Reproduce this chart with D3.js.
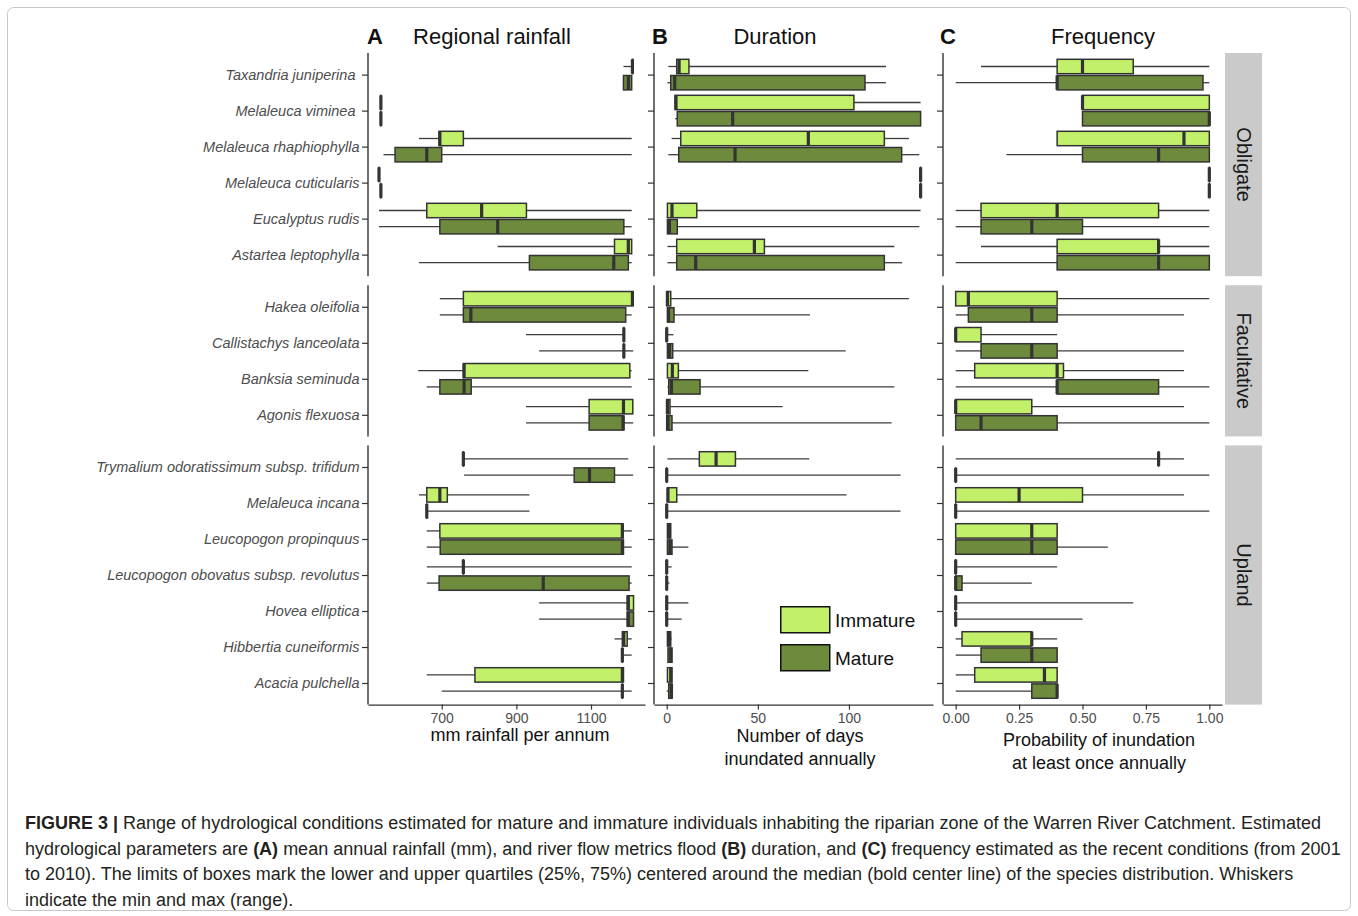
<!DOCTYPE html>
<html>
<head>
<meta charset="utf-8">
<script src="https://cdn.jsdelivr.net/npm/d3@7"></script>
<style>
  body { margin: 0; background: #fff; }
  text { font-family: "Liberation Sans", Arial, Helvetica, sans-serif; }
</style>
</head>
<body>
<svg id="chart"></svg>
<script>
// ---- data ----
const groups = ["Obligate", "Facultative", "Upland"];
const speciesObligate = ["Taxandria juniperina ", "Melaleuca viminea ", "Melaleuca rhaphiophylla",
  "Melaleuca cuticularis", "Eucalyptus rudis", "Astartea leptophylla"];
const speciesFacultative = ["Hakea oleifolia", "Callistachys lanceolata", "Banksia seminuda", "Agonis flexuosa"];
const speciesUpland = ["Trymalium odoratissimum subsp. trifidum", "Melaleuca incana", "Leucopogon propinquus",
  "Leucopogon obovatus subsp. revolutus", "Hovea elliptica", "Hibbertia cuneiformis", "Acacia pulchella"];
const stages = ["Immature", "Mature"];

// [min, q1, median, q3, max], species in the order above
const rainfallImmature = [
  [1187, 1211, 1211, 1212, 1212], [537, 537, 537, 537, 537], [639, 693, 695, 758, 1209],
  [532, 532, 532, 532, 532], [532, 660, 807, 927, 1209], [850, 1163, 1200, 1209, 1209],
  [695, 758, 1211, 1213, 1213], [926, 1188, 1188, 1188, 1188], [637, 758, 760, 1204, 1209],
  [926, 1095, 1187, 1212, 1212],
  [758, 758, 758, 758, 1200], [639, 660, 695, 715, 935], [660, 695, 1184, 1186, 1209],
  [660, 758, 758, 758, 1209], [961, 1197, 1200, 1214, 1214], [1163, 1184, 1188, 1197, 1209],
  [660, 789, 1184, 1187, 1187]
];
const rainfallMature = [
  [1187, 1187, 1200, 1209, 1209], [537, 537, 537, 537, 537], [544, 575, 660, 700, 1209],
  [537, 537, 537, 537, 537], [532, 695, 850, 1188, 1209], [639, 935, 1161, 1200, 1209],
  [695, 758, 778, 1193, 1209], [961, 1188, 1188, 1188, 1213], [660, 695, 760, 779, 1209],
  [926, 1095, 1186, 1188, 1213],
  [760, 1055, 1096, 1163, 1213], [660, 660, 660, 660, 935], [660, 696, 1184, 1187, 1209],
  [660, 693, 972, 1202, 1209], [961, 1197, 1200, 1214, 1214], [1184, 1184, 1184, 1184, 1209],
  [700, 1184, 1184, 1184, 1209]
];
const durationImmature = [
  [0.9, 5.5, 6.8, 12.2, 120.3], [4, 4.6, 5.1, 102.7, 139.3], [2.7, 7.7, 77.7, 119.4, 132.9],
  [139.3, 139.3, 139.3, 139.3, 139.3], [0.4, 0.4, 2.9, 16.5, 139.3], [0.4, 5.5, 48.1, 53.6, 124.9],
  [0, 0, 0.4, 2.2, 132.9], [0, 0, 0, 0, 3.7], [0.4, 0.4, 3.1, 6.4, 77.7], [0, 0, 0.4, 1.8, 63.6],
  [0.4, 17.9, 27.1, 37.7, 78.2], [0, 0.4, 0.7, 5.5, 98.7], [0.4, 0.4, 1.5, 2.2, 2.2],
  [0, 0, 0, 0, 2.7], [0, 0, 0, 0, 11.9], [0.4, 0.4, 1.5, 2.2, 2.7], [0.4, 0.4, 2.2, 2.9, 2.9]
];
const durationMature = [
  [0.4, 2.2, 4.4, 108.8, 120.3], [4.6, 5.8, 36.2, 139.3, 139.3], [0.9, 6.6, 37.5, 128.9, 138.6],
  [139.3, 139.3, 139.3, 139.3, 139.3], [0.4, 0.4, 1.5, 5.8, 138.6], [0.4, 5.5, 15.9, 119.4, 129.2],
  [0.4, 0.4, 1.0, 4.0, 78.6], [0.4, 0.4, 1.5, 3.3, 98.2], [0.4, 1.1, 2.6, 18.3, 124.9], [0, 0, 0.7, 2.9, 123.4],
  [0, 0, 0, 0, 128.3], [0, 0, 0, 0, 128.3], [0.4, 0.4, 1.8, 2.9, 11.9],
  [0, 0, 0, 0, 1.5], [0, 0, 0, 0, 8.2], [0.7, 0.7, 2.2, 2.9, 2.9], [0, 1.1, 2.6, 2.9, 2.9]
];
const frequencyImmature = [
  [0.1, 0.4, 0.5, 0.7, 1], [0.5, 0.5, 0.5, 1, 1], [0.4, 0.4, 0.9, 1, 1], [1, 1, 1, 1, 1],
  [0, 0.1, 0.4, 0.8, 1], [0.1, 0.4, 0.8, 0.8, 1],
  [0, 0, 0.05, 0.4, 1], [0, 0, 0, 0.1, 0.4], [0, 0.075, 0.4, 0.425, 0.9], [0, 0, 0, 0.3, 0.9],
  [0, 0.8, 0.8, 0.8, 0.9], [0, 0, 0.25, 0.5, 0.9], [0, 0, 0.3, 0.4, 0.4], [0, 0, 0, 0, 0.4],
  [0, 0, 0, 0, 0.7], [0, 0.025, 0.3, 0.3, 0.4], [0, 0.075, 0.35, 0.4, 0.4]
];
const frequencyMature = [
  [0, 0.4, 0.4, 0.975, 1], [0.5, 0.5, 1, 1, 1], [0.2, 0.5, 0.8, 1, 1], [1, 1, 1, 1, 1],
  [0, 0.1, 0.3, 0.5, 1], [0, 0.4, 0.8, 1, 1],
  [0, 0.05, 0.3, 0.4, 0.9], [0, 0.1, 0.3, 0.4, 0.9], [0, 0.4, 0.4, 0.8, 1], [0, 0, 0.1, 0.4, 1],
  [0, 0, 0, 0, 1], [0, 0, 0, 0, 1], [0, 0, 0.3, 0.4, 0.6], [0, 0, 0, 0.025, 0.3],
  [0, 0, 0, 0, 0.5], [0, 0.1, 0.3, 0.4, 0.4], [0, 0.3, 0.4, 0.4, 0.4]
];

const rainfallTicks = [700, 900, 1100];
const durationTicks = [0, 50, 100];
const frequencyTicks = [0, 0.25, 0.5, 0.75, 1];

// ---- layout ----
const W = 1358, H = 916;
const unit = 36, rowGap = 9, top0 = 53;
const fills = { Immature: "#c2f06b", Mature: "#6e8b3d" };
const ink = "#333333";

const svg = d3.select("#chart").attr("width", W).attr("height", H);

svg.append("rect")
  .attr("x", 7.5).attr("y", 7.5).attr("width", W - 15).attr("height", H - 13)
  .attr("rx", 6).attr("fill", "none").attr("stroke", "#c8c8c8");

const speciesByGroup = [speciesObligate, speciesFacultative, speciesUpland];
let rows = [], yy = top0, startIdx = 0;
speciesByGroup.forEach((names, i) => {
  const h = (names.length + 0.2) * unit;
  rows.push({ group: groups[i], names: names, start: startIdx, y0: yy, y1: yy + h });
  startIdx += names.length;
  yy += h + rowGap;
});
const bottom = rows[rows.length - 1].y1;

const panels = [
  { imm: rainfallImmature, mat: rainfallMature, x0: 368, x1: 645, domain: [502.5, 1244.7],
    ticks: rainfallTicks, fmt: d3.format("d"), letter: "A", letterX: 367,
    title: "Regional rainfall", titleX: 492, axisTitle: ["mm rainfall per annum"], axisTitleY: 741 },
  { imm: durationImmature, mat: durationMature, x0: 654, x1: 933, domain: [-6.97, 146.1],
    ticks: durationTicks, fmt: d3.format("d"), letter: "B", letterX: 652,
    title: "Duration", titleX: 775, axisTitle: ["Number of days", "inundated annually"], axisTitleY: 742 },
  { imm: frequencyImmature, mat: frequencyMature, x0: 943, x1: 1222, domain: [-0.05, 1.05],
    ticks: frequencyTicks, fmt: d3.format(".2f"), letter: "C", letterX: 940,
    title: "Frequency", titleX: 1103, axisTitle: ["Probability of inundation", "at least once annually"], axisTitleY: 746 }
];

panels.forEach((p, pi) => {
  const x = d3.scaleLinear().domain(p.domain).range([p.x0, p.x1]);

  rows.forEach(r => {
    const y = d3.scalePoint().domain(r.names).range([r.y0 + 0.6 * unit, r.y1 - 0.6 * unit]);

    const ax = svg.append("g")
      .attr("transform", `translate(${p.x0},0)`)
      .call(d3.axisLeft(y).tickSize(6).tickPadding(2.5).tickFormat(pi === 0 ? (d => d) : ""));
    ax.select(".domain").remove();
    ax.selectAll(".tick line").attr("stroke", ink).attr("stroke-width", 1.2);
    ax.selectAll(".tick text")
      .attr("fill", "#4d4d4d").attr("font-size", 14.5).attr("font-style", "italic")
      .attr("font-family", '"Liberation Sans", Arial, sans-serif')
      .style("white-space", "pre");
    svg.append("line")
      .attr("x1", p.x0).attr("x2", p.x0).attr("y1", r.y0).attr("y2", r.y1)
      .attr("stroke", ink).attr("stroke-width", 1.4);

    r.names.forEach((name, k) => {
      const idx = r.start + k;
      stages.forEach((st, si) => {
        const s = (si === 0 ? p.imm : p.mat)[idx];
        const cy = y(name) + (si === 0 ? -0.225 : 0.225) * unit;
        const bh = 0.4 * unit;
        const g = svg.append("g");
        g.append("line").attr("x1", x(s[0])).attr("x2", x(s[1])).attr("y1", cy).attr("y2", cy)
          .attr("stroke", "#3d3d3d").attr("stroke-width", 1.3);
        g.append("line").attr("x1", x(s[3])).attr("x2", x(s[4])).attr("y1", cy).attr("y2", cy)
          .attr("stroke", "#3d3d3d").attr("stroke-width", 1.3);
        g.append("rect")
          .attr("x", x(s[1])).attr("y", cy - bh / 2)
          .attr("width", Math.max(0.01, x(s[3]) - x(s[1]))).attr("height", bh)
          .attr("fill", fills[st]).attr("stroke", ink).attr("stroke-width", 1.5);
        g.append("line").attr("x1", x(s[2])).attr("x2", x(s[2]))
          .attr("y1", cy - bh / 2).attr("y2", cy + bh / 2)
          .attr("stroke", ink).attr("stroke-width", 3.2);
      });
    });
  });

  // bottom axis
  const xa = svg.append("g")
    .attr("transform", `translate(0,${bottom})`)
    .call(d3.axisBottom(x).tickValues(p.ticks).tickFormat(p.fmt).tickSize(5).tickSizeOuter(0).tickPadding(3));
  xa.select(".domain").attr("stroke", ink).attr("stroke-width", 1.4);
  xa.selectAll(".tick line").attr("stroke", ink).attr("stroke-width", 1.2);
  xa.selectAll(".tick text").attr("fill", "#4d4d4d").attr("font-size", 14)
    .attr("font-family", '"Liberation Sans", Arial, sans-serif');

  // panel letter and title
  svg.append("text").attr("x", p.letterX).attr("y", 44).attr("font-size", 22)
    .attr("font-weight", "bold").attr("fill", "#111").text(p.letter);
  svg.append("text").attr("x", p.titleX).attr("y", 44).attr("font-size", 22)
    .attr("text-anchor", "middle").attr("fill", "#111").text(p.title);

  // axis title
  const cx = pi === 0 ? 520 : (pi === 1 ? 800 : 1099);
  p.axisTitle.forEach((t, li) => {
    svg.append("text").attr("x", cx).attr("y", p.axisTitleY + li * 23)
      .attr("text-anchor", "middle").attr("font-size", 18).attr("fill", "#111").text(t);
  });
});

// facet strips
rows.forEach(r => {
  svg.append("rect").attr("x", 1225).attr("y", r.y0).attr("width", 37).attr("height", r.y1 - r.y0)
    .attr("fill", "#cacaca");
  const my = (r.y0 + r.y1) / 2;
  svg.append("text").attr("transform", `translate(1243.5,${my}) rotate(90)`)
    .attr("text-anchor", "middle").attr("dy", "0.35em").attr("font-size", 20).attr("fill", "#1a1a1a")
    .text(r.group);
});

// legend
const legend = svg.append("g").attr("transform", "translate(780,606)");
stages.forEach((st, i) => {
  legend.append("rect").attr("x", 0.75).attr("y", i * 38 + 0.75).attr("width", 49).attr("height", 26)
    .attr("fill", fills[st]).attr("stroke", "#111").attr("stroke-width", 1.5);
  legend.append("text").attr("x", 55).attr("y", i * 38 + 14).attr("dy", "0.35em")
    .attr("font-size", 19).attr("fill", "#111").text(st);
});

// caption
const caption = [
  [["FIGURE 3 |", true], [" Range of hydrological conditions estimated for mature and immature individuals inhabiting the riparian zone of the Warren River Catchment. Estimated", false]],
  [["hydrological parameters are ", false], ["(A)", true], [" mean annual rainfall (mm), and river flow metrics flood ", false], ["(B)", true], [" duration, and ", false], ["(C)", true], [" frequency estimated as the recent conditions (from 2001", false]],
  [["to 2010). The limits of boxes mark the lower and upper quartiles (25%, 75%) centered around the median (bold center line) of the species distribution. Whiskers", false]],
  [["indicate the min and max (range).", false]]
];
caption.forEach((line, i) => {
  const t = svg.append("text").attr("x", 25).attr("y", 829 + i * 25.5)
    .attr("font-size", 18).attr("fill", "#231f20").style("white-space", "pre");
  line.forEach(([s, b]) => {
    t.append("tspan").attr("font-weight", b ? "bold" : "normal").text(s);
  });
});
</script>
</body>
</html>
